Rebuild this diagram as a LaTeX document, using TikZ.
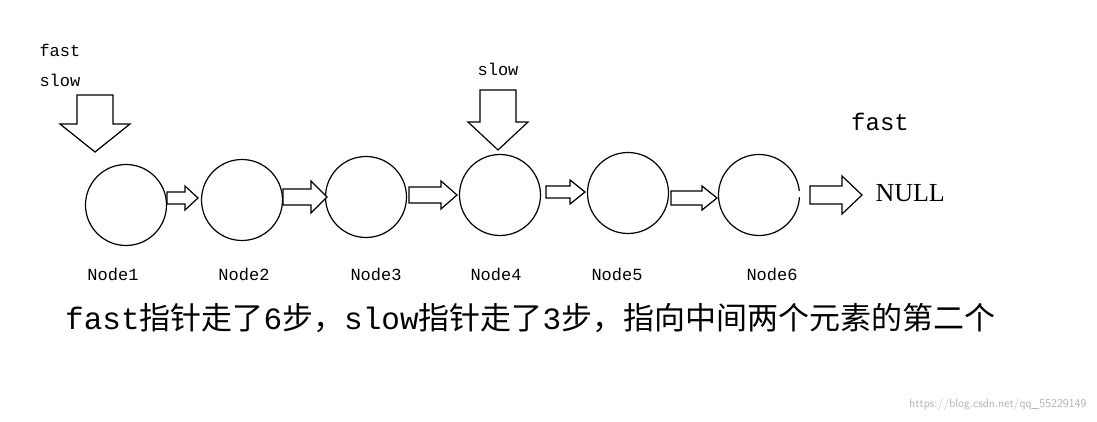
\documentclass[tikz,border=0pt]{standalone}
\usepackage{fontspec}
\setmainfont{Liberation Mono}
\newfontfamily\cjk{Noto Sans CJK SC}
\newfontfamily\serifx{Liberation Serif}
\newcommand\harr[6]{% x1 x2 y shafthalf headhalf headlen
  \draw[line width=1.2pt,fill=white,line join=miter] (#1,#3-#4) -- (#2-#6,#3-#4) -- (#2-#6,#3-#5) -- (#2,#3) -- (#2-#6,#3+#5) -- (#2-#6,#3+#4) -- (#1,#3+#4) -- cycle;}
\newcommand\varr[6]{% x y1 y2 shafthalf headhalf headlen
  \draw[line width=1.2pt,fill=white,line join=miter] (#1-#4,#2) -- (#1-#4,#3-#6) -- (#1-#5,#3-#6) -- (#1,#3) -- (#1+#5,#3-#6) -- (#1+#4,#3-#6) -- (#1+#4,#2) -- cycle;}
\begin{document}
\begin{tikzpicture}[x=1pt,y=-1pt,
  nd/.style={circle,draw,line width=1.2pt,minimum size=81pt,inner sep=0pt},
  lb/.style={font=\fontsize{17}{17}\selectfont},
  ]
\useasboundingbox (0,0) rectangle (1097,422);
\node[nd] (n1) at (126,205) {};
\node[nd] (n2) at (242,200) {};
\node[nd] (n3) at (366,197) {};
\node[nd] (n4) at (500,195) {};
\node[nd] (n5) at (628,193) {};
\node[nd] (n6) at (759,195) {};
\fill[white] (797,191) rectangle (803,197);
\harr{167}{198}{198}{6}{12}{13}
\harr{283}{327}{197}{8}{16}{16}
\harr{409}{457}{195}{8}{14}{16}
\harr{546}{585}{192}{6}{12}{15}
\harr{671}{717}{198}{7}{12}{15}
\harr{810}{862}{195}{9}{19}{20}
\varr{95}{95}{152}{18}{35}{28}
\varr{498}{90}{150}{18}{30}{28}
\node[lb,anchor=west] (t1) at (36,50) {fast};
\node[lb,anchor=west] (t2) at (36,80) {slow};
\node[lb] (t3) at (498,69) {slow};
\node[font=\fontsize{24}{24}\selectfont] (t4) at (880,122) {fast};
\node[font=\serifx\fontsize{26}{26}\selectfont,anchor=west] (t5) at (872,193) {NULL};
\node[lb] (l1) at (113,274) {Node1};
\node[lb] (l2) at (244,274) {Node2};
\node[lb] (l3) at (376,274) {Node3};
\node[lb] (l4) at (496,274) {Node4};
\node[lb] (l5) at (617,274) {Node5};
\node[lb] (l6) at (772,274) {Node6};
\node[font=\fontsize{31}{31}\selectfont,anchor=west,inner sep=0pt] (b) at (65,318) {fast{\cjk 指针走了}6{\cjk 步，}slow{\cjk 指针走了}3{\cjk 步，指向中间两个元素的第二个}};
\node[font=\sffamily\fontsize{12}{12}\selectfont,text=black!30,anchor=east] (w) at (1090,404) {https://blog.csdn.net/qq\_55229149};
\end{tikzpicture}
\end{document}
